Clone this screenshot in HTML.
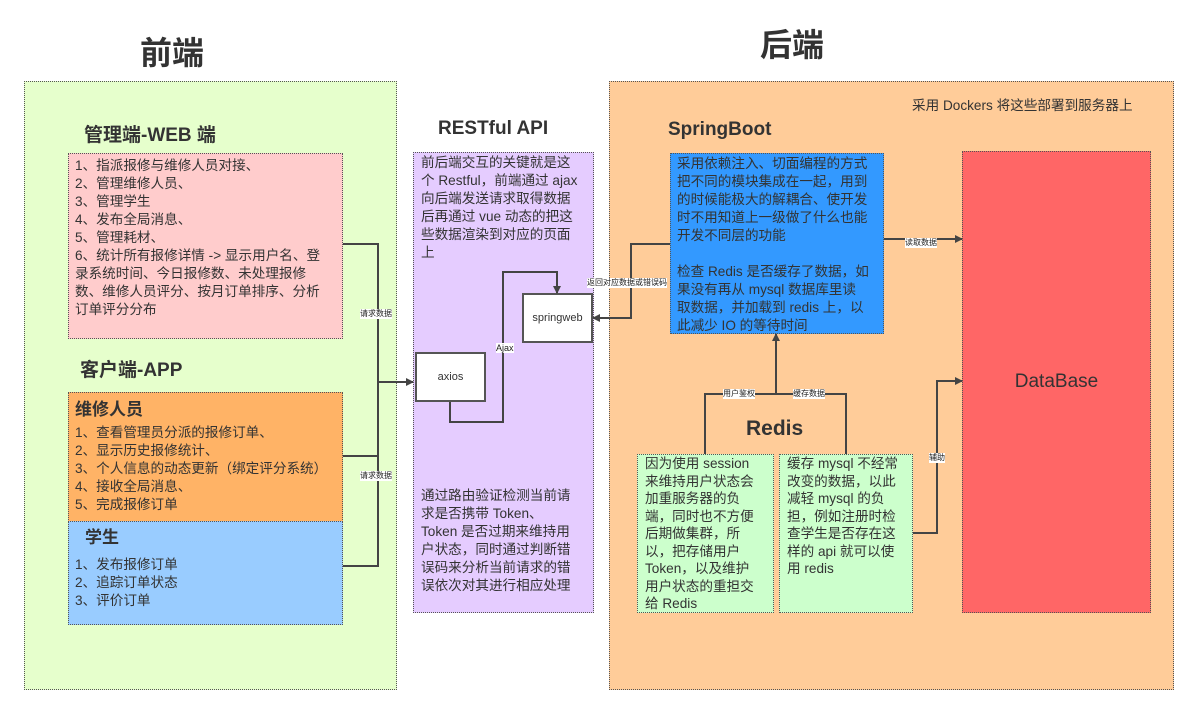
<!DOCTYPE html>
<html><head><meta charset="utf-8"><style>
*{margin:0;padding:0;box-sizing:border-box}
body{width:1197px;height:709px;background:#fff;position:relative;overflow:hidden;font-family:"Liberation Sans","Noto Sans CJK SC",sans-serif;color:#333}
.b{position:absolute;border:1.5px dotted #555}
.t{position:absolute;font-size:13.6px;line-height:18px;color:#333;white-space:nowrap}
.h{position:absolute;font-weight:bold;color:#333;white-space:nowrap}
.w{position:absolute;background:#fff;border:2px solid #555;font-size:11px;display:flex;align-items:center;justify-content:center}
svg{position:absolute;left:0;top:0}
.l{position:absolute;font-size:8px;background:#fff;line-height:10px;white-space:nowrap;color:#222}
</style></head><body>
<div class="h" style="left:140px;top:28px;font-size:32px">前端</div>
<div class="h" style="left:760px;top:20px;font-size:32px">后端</div>

<div class="b" style="left:24px;top:81px;width:373px;height:609px;background:#e6ffcc"></div>
<div class="h" style="left:84px;top:120px;font-size:19px">管理端-WEB 端</div>
<div class="b t" style="left:68px;top:153px;width:275px;height:186px;background:#ffcccc;padding:3px 6px 0">1、指派报修与维修人员对接、<br>2、管理维修人员、<br>3、管理学生<br>4、发布全局消息、<br>5、管理耗材、<br>6、统计所有报修详情 -&gt; 显示用户名、登<br>录系统时间、今日报修数、未处理报修<br>数、维修人员评分、按月订单排序、分析<br>订单评分分布</div>
<div class="h" style="left:80px;top:355px;font-size:19px">客户端-APP</div>
<div class="b t" style="left:68px;top:392px;width:275px;height:130px;background:#ffb366;padding:6px 6px"><div style="font-size:17px;font-weight:bold;line-height:22px;margin-bottom:3px">维修人员</div>1、查看管理员分派的报修订单、<br>2、显示历史报修统计、<br>3、个人信息的动态更新（绑定评分系统）<br>4、接收全局消息、<br>5、完成报修订单</div>
<div class="b t" style="left:68px;top:521px;width:275px;height:104px;background:#99ccff;padding:4px 6px"><div style="font-size:17px;font-weight:bold;line-height:24px;padding-left:10px;margin-bottom:6px">学生</div>1、发布报修订单<br>2、追踪订单状态<br>3、评价订单</div>

<div class="h" style="left:438px;top:118px;font-size:19px">RESTful API</div>
<div class="b" style="left:413px;top:152px;width:181px;height:461px;background:#e5ccff"></div>
<div class="t" style="left:421px;top:154px">前后端交互的关键就是这<br>个 Restful，前端通过 ajax<br>向后端发送请求取得数据<br>后再通过 vue 动态的把这<br>些数据渲染到对应的页面<br>上</div>
<div class="t" style="left:421px;top:487px">通过路由验证检测当前请<br>求是否携带 Token、<br>Token 是否过期来维持用<br>户状态，同时通过判断错<br>误码来分析当前请求的错<br>误依次对其进行相应处理</div>
<div class="w" style="left:415px;top:352px;width:71px;height:50px">axios</div>
<div class="w" style="left:522px;top:293px;width:71px;height:50px">springweb</div>

<div class="b" style="left:609px;top:81px;width:565px;height:609px;background:#ffcc99"></div>
<div class="t" style="left:912px;top:97px">采用 Dockers 将这些部署到服务器上</div>
<div class="h" style="left:668px;top:119px;font-size:19px">SpringBoot</div>
<div class="b t" style="left:670px;top:153px;width:214px;height:181px;background:#3399ff;padding:1px 6px">采用依赖注入、切面编程的方式<br>把不同的模块集成在一起，用到<br>的时候能极大的解耦合、使开发<br>时不用知道上一级做了什么也能<br>开发不同层的功能<br><br>检查 Redis 是否缓存了数据，如<br>果没有再从 mysql 数据库里读<br>取数据，并加载到 redis 上，以<br>此减少 IO 的等待时间</div>
<div class="b" style="left:962px;top:151px;width:189px;height:462px;background:#ff6666;display:flex;align-items:center;justify-content:center;font-size:19px;color:#333">DataBase</div>
<div class="h" style="left:746px;top:417px;font-size:21px">Redis</div>
<div class="b t" style="left:637px;top:454px;width:137px;height:159px;background:#ccffcc;padding:0 7px;line-height:17.5px">因为使用 session<br>来维持用户状态会<br>加重服务器的负<br>端，同时也不方便<br>后期做集群，所<br>以，把存储用户<br>Token，以及维护<br>用户状态的重担交<br>给 Redis</div>
<div class="b t" style="left:779px;top:454px;width:134px;height:159px;background:#ccffcc;padding:0 7px;line-height:17.5px">缓存 mysql 不经常<br>改变的数据，以此<br>减轻 mysql 的负<br>担，例如注册时检<br>查学生是否存在这<br>样的 api 就可以使<br>用 redis</div>

<svg width="1197" height="709"><defs><marker id="a" markerWidth="8" markerHeight="8" refX="7" refY="4" orient="auto" markerUnits="userSpaceOnUse"><path d="M0,0L8,4L0,8z" fill="#444"/></marker></defs>
<g stroke="#444" stroke-width="2" fill="none">
<path d="M343,244H378V566H343M343,456H378"/>
<path d="M378,382H413" marker-end="url(#a)"/>
<path d="M450,402V422H503V272H557V293" marker-end="url(#a)"/>
<path d="M670,244H631V318H593" marker-end="url(#a)"/>
<path d="M884,239H962" marker-end="url(#a)"/>
<path d="M705,454V394H846V454"/>
<path d="M776,394V334" marker-end="url(#a)"/>
<path d="M913,533H937V381H962" marker-end="url(#a)"/>
</g></svg>
<div class="l" style="left:360px;top:309px">请求数据</div>
<div class="l" style="left:360px;top:471px">请求数据</div>
<div class="l" style="left:496px;top:343px;font-size:9px">Ajax</div>
<div class="l" style="left:587px;top:278px">返回对应数据或错误码</div>
<div class="l" style="left:905px;top:238px">读取数据</div>
<div class="l" style="left:723px;top:389px">用户鉴权</div>
<div class="l" style="left:793px;top:389px">缓存数据</div>
<div class="l" style="left:929px;top:453px">辅助</div>
</body></html>
